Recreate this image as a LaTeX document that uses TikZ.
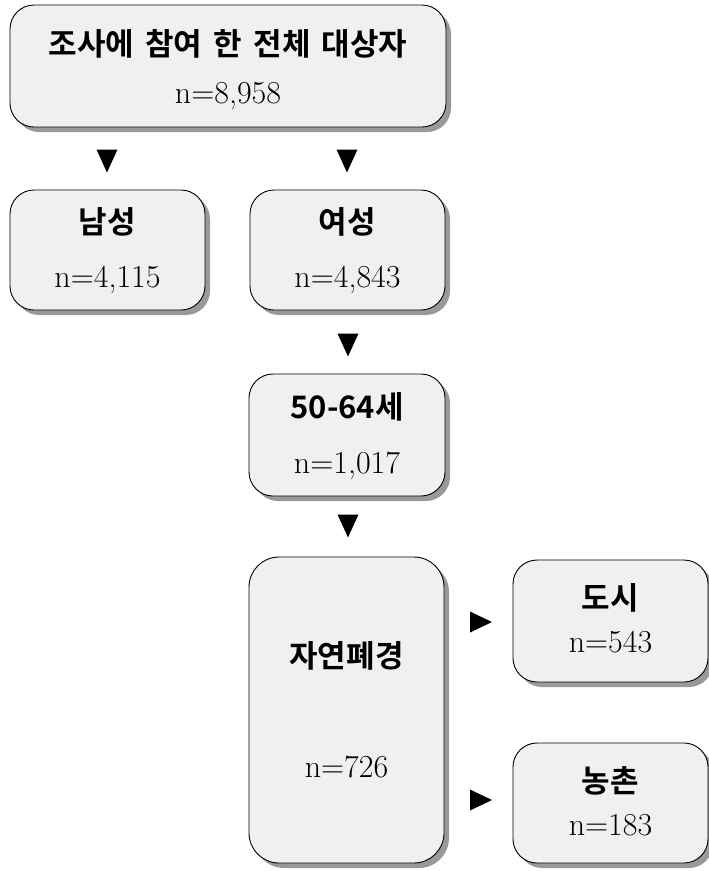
\documentclass[tikz,border=0pt]{standalone}
\usepackage{fontspec}
\newfontfamily\kr[WordSpace=1.6,BoldFont={Noto Sans CJK KR Bold}]{Noto Sans CJK KR}
\usetikzlibrary{shadows}
\definecolor{boxfill}{HTML}{F0F0F0}
\tikzset{
  box/.style={draw=black, line width=0.9pt, fill=boxfill, rounded corners=24pt,
    drop shadow={shadow xshift=5pt, shadow yshift=-5pt, fill=black!40, opacity=1},
    inner sep=0pt},
  title/.style={font=\kr\bfseries\fontsize{31}{33}\selectfont, inner sep=0pt},
  num/.style={font=\fontsize{32}{34}\selectfont, inner sep=0pt, anchor=base},
  tri/.style={fill=black}
}
\begin{document}
\begin{tikzpicture}[x=1pt,y=-1pt]
\useasboundingbox (0,0) rectangle (709,871);
% boxes
\node[box, minimum width=436pt, minimum height=122pt] (all) at (228,66) {};
\node[box, minimum width=195pt, minimum height=120pt] (male) at (107.5,250) {};
\node[box, minimum width=195pt, minimum height=120pt] (female) at (347.5,250) {};
\node[box, minimum width=196pt, minimum height=122pt] (age) at (347,435) {};
\node[box, minimum width=195pt, minimum height=306pt, rounded corners=30pt] (meno) at (346.5,710) {};
\node[box, minimum width=195pt, minimum height=122pt] (city) at (610.5,621) {};
\node[box, minimum width=195pt, minimum height=120pt] (rural) at (610.5,803) {};
% texts
\node[title] (allT) at (228,44) {조사에 참여 한 전체 대상자};
\node[num] (allN) at (228,103) {n=8,958};
\node[title] (maleT) at (107.5,222) {남성};
\node[num] (maleN) at (107.5,287) {n=4,115};
\node[title] (femaleT) at (347.5,222) {여성};
\node[num] (femaleN) at (347.5,287) {n=4,843};
\node[title] (ageT) at (347,407) {50-64세};
\node[num] (ageN) at (347,473) {n=1,017};
\node[title] (menoT) at (346.5,656) {자연폐경};
\node[num] (menoN) at (346.5,777) {n=726};
\node[title] (cityT) at (610.5,598) {도시};
\node[num] (cityN) at (610.5,652) {n=543};
\node[title] (ruralT) at (610.5,781) {농촌};
\node[num] (ruralN) at (610.5,835) {n=183};
% triangles
\coordinate (d1) at (107,161);
\coordinate (d2) at (347,161);
\coordinate (d3) at (348,345);
\coordinate (d4) at (348,526);
\coordinate (r1) at (481,622);
\coordinate (r2) at (481,800);
\foreach \c in {d1,d2,d3,d4}
  \fill[tri] (\c) ++(-10.5,-11.5) -- ++(21,0) -- ++(-10.5,23) -- cycle;
\foreach \c in {r1,r2}
  \fill[tri] (\c) ++(-11,-10.5) -- ++(22,10.5) -- ++(-22,10.5) -- cycle;
\end{tikzpicture}
\end{document}
